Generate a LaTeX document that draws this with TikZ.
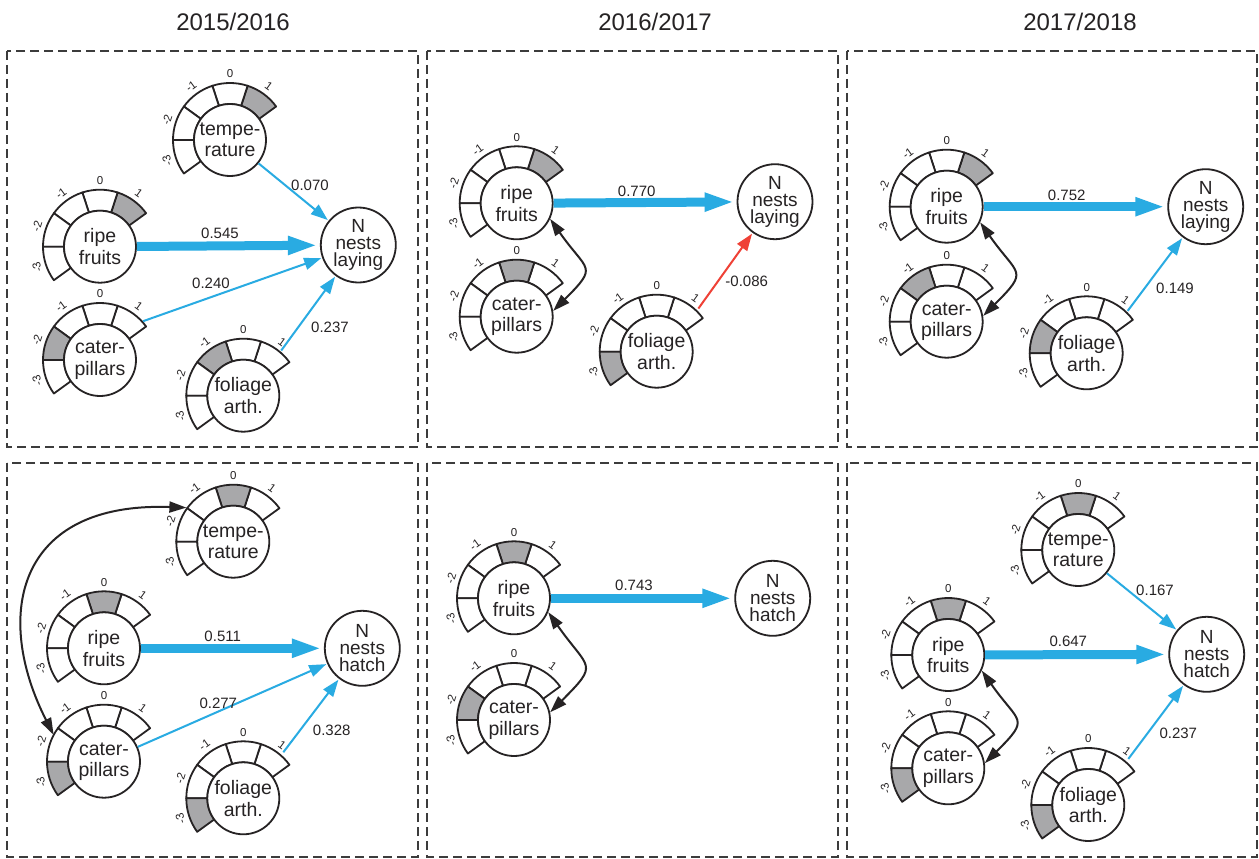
\documentclass[tikz,border=0pt]{standalone}
\usepackage{fontspec}
\setmainfont{Liberation Sans}
\usetikzlibrary{calc,arrows.meta}
\definecolor{lc}{RGB}{38,35,36}
\definecolor{cellgrey}{RGB}{168,168,170}
\definecolor{cblue}{RGB}{41,171,226}
\definecolor{cred}{RGB}{239,65,54}
\definecolor{boxc}{RGB}{60,60,60}
\tikzset{
 gcirc/.style={circle, draw=lc, line width=1.8pt, fill=white, minimum size=72pt, inner sep=0pt, align=center, text=lc, font=\fontsize{19.5}{21.5}\selectfont},
 ncirc/.style={gcirc, minimum size=75pt, font=\fontsize{19}{17}\selectfont},
 ring/.style={draw=lc, line width=1.8pt, line join=round},
 glab/.style={font=\fontsize{11.5}{12}\selectfont, inner sep=0pt, text=lc},
 coef/.style={font=\fontsize{15}{16}\selectfont, inner sep=0pt, text=lc},
 yeartitle/.style={font=\fontsize{24}{26}\selectfont, text=lc},
 panel/.style={draw=boxc, line width=1.8pt, dash pattern=on 9pt off 5pt},
 thinb/.style={draw=cblue, line width=2pt, -{Triangle[length=17pt,width=12pt]}, shorten >=1pt},
 thinr/.style={draw=cred, line width=2pt, -{Triangle[length=17pt,width=12pt]}, shorten >=1pt},
 thickb/.style={draw=cblue, line width=9pt, -{Triangle[length=30pt,width=17pt]}, shorten >=2pt},
 corr/.style={draw=lc, line width=2pt, {Triangle[length=17pt,width=11pt]}-{Triangle[length=17pt,width=11pt]}},
}
% #1 name, #2 position, #3 text, #4 index of grey cell (0 = "1", 1 = "0", 2 = "-1", 3 = "-2", 4 = "-3")
\newcommand{\gaugenode}[4]{%
  \coordinate (#1-c) at (#2);
  \foreach \i/\lab in {0/1,1/0,2/-1,3/-2,4/-3}{%
    \pgfmathsetmacro\ga{36+36*\i}%
    \pgfmathsetmacro\gb{72+36*\i}%
    \pgfmathsetmacro\gm{54+36*\i}%
    \ifnum\i=#4\relax\def\gfill{cellgrey}\else\def\gfill{white}\fi
    \draw[ring, fill=\gfill] ($(#1-c)+(\ga:36pt)$) arc[start angle=\ga, end angle=\gb, radius=36pt]
       -- ($(#1-c)+(\gb:57pt)$) arc[start angle=\gb, end angle=\ga, radius=57pt] -- cycle;
    \node[glab, rotate=\gm-90] (#1-l\i) at ($(#1-c)+(\gm:66pt)$) {\lab};
  }%
  \node[gcirc] (#1) at (#2) {#3};
}
\begin{document}
\begin{tikzpicture}[x=1pt,y=1pt]
\useasboundingbox (0,0) rectangle (1259,-859);
\fill[white] (0,0) rectangle (1259,-859);

% titles
\node[yeartitle] (t1) at (233,-22) {2015/2016};
\node[yeartitle] (t2) at (655,-22) {2016/2017};
\node[yeartitle] (t3) at (1080,-22) {2017/2018};

% panels
\draw[panel] (7,-51) rectangle (418,-447);
\draw[panel] (427,-51) rectangle (838,-447);
\draw[panel] (847,-51) rectangle (1257,-447);
\draw[panel] (7,-463) rectangle (418,-857);
\draw[panel] (427,-463) rectangle (838,-857);
\draw[panel] (847,-463) rectangle (1257,-857);

% ---------- panel 1: 2015/2016 laying
\gaugenode{temp1}{230,-140}{tempe-\\rature}{0}
\gaugenode{ripe1}{100,-246.7}{ripe\\fruits}{0}
\gaugenode{cat1}{100,-360}{cater-\\pillars}{3}
\gaugenode{fol1}{243.3,-395.7}{foliage\\arth.}{2}
\node[ncirc] (N1) at (358.3,-245) {N\\nests\\laying};
\coordinate (cat1t) at ($(cat1)+(42:58pt)$);
\coordinate (fol1t) at ($(fol1)+(50:59pt)$);
\draw[thinb] (temp1) -- (N1);
\draw[thickb] (ripe1) -- (N1);
\draw[thinb] (cat1t) -- (N1);
\draw[thinb] (fol1t) -- (N1);
\node[coef] (c1a) at (310,-185) {0.070};
\node[coef] (c1b) at (220,-233.3) {0.545};
\node[coef] (c1c) at (211,-283.3) {0.240};
\node[coef] (c1d) at (330,-327.7) {0.237};

% ---------- panel 2: 2016/2017 laying
\gaugenode{ripe2}{516.7,-203.3}{ripe\\fruits}{0}
\gaugenode{cat2}{516.7,-316.7}{cater-\\pillars}{1}
\gaugenode{fol2}{656.7,-351.7}{foliage\\arth.}{4}
\node[ncirc] (N2) at (775,-201.7) {N\\nests\\laying};
\coordinate (fol2t) at ($(fol2)+(46:60pt)$);
\draw[thickb] (ripe2) -- (N2);
\draw[thinr] (fol2t) -- (N2);
\draw[corr] (ripe2.-25) to[out=-55, in=45, looseness=1.8] (cat2.9);
\node[coef] (c2a) at (636.7,-191.7) {0.770};
\node[coef] (c2b) at (746.7,-281.7) {-0.086};

% ---------- panel 3: 2017/2018 laying
\gaugenode{ripe3}{946.7,-206.7}{ripe\\fruits}{0}
\gaugenode{cat3}{946.7,-321.7}{cater-\\pillars}{2}
\gaugenode{fol3}{1086.7,-353.3}{foliage\\arth.}{3}
\node[ncirc] (N3) at (1205.7,-206.7) {N\\nests\\laying};
\coordinate (fol3t) at ($(fol3)+(46:59pt)$);
\draw[thickb] (ripe3) -- (N3);
\draw[thinb] (fol3t) -- (N3);
\draw[corr] (ripe3.-25) to[out=-55, in=45, looseness=1.8] (cat3.9);
\node[coef] (c3a) at (1066.7,-195) {0.752};
\node[coef] (c3b) at (1175,-288.3) {0.149};

% ---------- panel 4: 2015/2016 hatch
\gaugenode{temp4}{233.3,-541.7}{tempe-\\rature}{1}
\gaugenode{ripe4}{104,-648.3}{ripe\\fruits}{1}
\gaugenode{cat4}{104,-761.7}{cater-\\pillars}{4}
\gaugenode{fol4}{243.3,-798.3}{foliage\\arth.}{4}
\node[ncirc] (N4) at (362.3,-648.3) {N\\nests\\hatch};
\coordinate (fol4t) at ($(fol4)+(49:61pt)$);
\coordinate (cat4t) at ($(cat4)+(152:57pt)$);
\coordinate (temp4t) at ($(temp4)+(144:58pt)$);
\draw[thickb] (ripe4) -- (N4);
\draw[thinb] (cat4) -- (N4);
\draw[thinb] (fol4t) -- (N4);
\draw[corr] (cat4t) to[out=117, in=178, out looseness=1.3, in looseness=1.65] (temp4t);
\node[coef] (c4a) at (222.7,-636) {0.511};
\node[coef] (c4b) at (218.3,-703.3) {0.277};
\node[coef] (c4c) at (331.7,-730) {0.328};

% ---------- panel 5: 2016/2017 hatch
\gaugenode{ripe5}{514,-598.3}{ripe\\fruits}{1}
\gaugenode{cat5}{514,-720}{cater-\\pillars}{3}
\node[ncirc] (N5) at (772.7,-598.3) {N\\nests\\hatch};
\draw[thickb] (ripe5) -- (N5);
\draw[corr] (ripe5.-22) to[out=-55, in=45, looseness=1.8] (cat5.12);
\node[coef] (c5a) at (634,-585) {0.743};

% ---------- panel 6: 2017/2018 hatch
\gaugenode{temp6}{1078.3,-550}{tempe-\\rature}{1}
\gaugenode{ripe6}{948.3,-655}{ripe\\fruits}{1}
\gaugenode{cat6}{948.3,-768.3}{cater-\\pillars}{4}
\gaugenode{fol6}{1088.3,-805}{foliage\\arth.}{4}
\node[ncirc] (N6) at (1206.7,-654.3) {N\\nests\\hatch};
\coordinate (fol6t) at ($(fol6)+(49:61pt)$);
\draw[thinb] (temp6) -- (N6);
\draw[thickb] (ripe6) -- (N6);
\draw[thinb] (fol6t) -- (N6);
\draw[corr] (ripe6.-25) to[out=-55, in=45, looseness=1.8] (cat6.8);
\node[coef] (c6a) at (1155,-590) {0.167};
\node[coef] (c6b) at (1068.3,-641.7) {0.647};
\node[coef] (c6c) at (1178.3,-733.3) {0.237};
\end{tikzpicture}
\end{document}
